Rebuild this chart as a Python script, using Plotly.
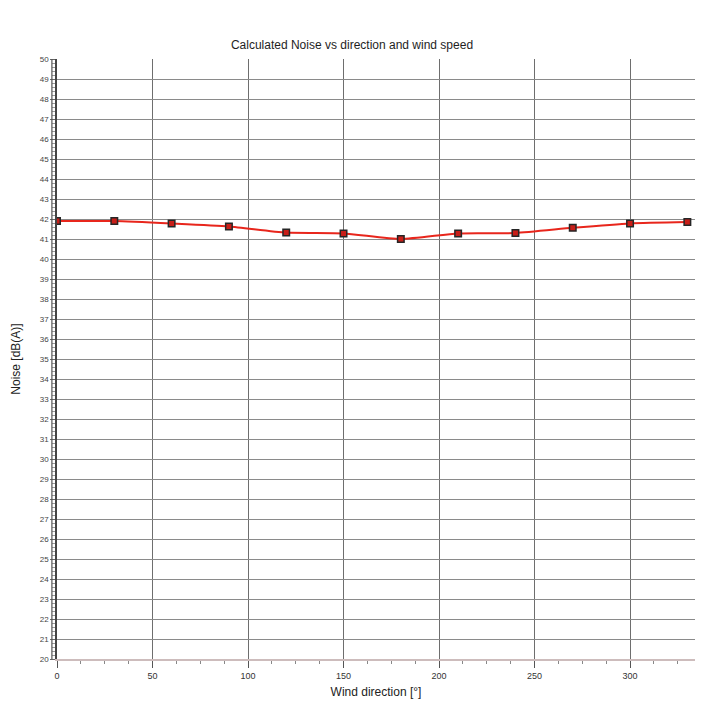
import plotly.graph_objects as go

# Wind direction in degrees and calculated noise level in dB(A)
direction = [0, 30, 60, 90, 120, 150, 180, 210, 240, 270, 300, 330]
noise = [41.9, 41.9, 41.78, 41.63, 41.32, 41.28, 41.0, 41.28, 41.3, 41.56, 41.78, 41.85]

y_ticks = list(range(20, 51))
x_ticks = [0, 50, 100, 150, 200, 250, 300]

FONT = "Liberation Sans, Arial, sans-serif"

fig = go.Figure()
fig.add_trace(go.Scatter(
    x=direction,
    y=noise,
    mode="lines+markers",
    line=dict(color="#e8261c", width=2, shape="spline", smoothing=0.6),
    marker=dict(symbol="square", size=6.5, color="#c81e18",
                line=dict(color="#262626", width=1.5)),
    showlegend=False,
))

# second, inner rule of the left axis
fig.add_shape(type="line", xref="paper", yref="paper",
              x0=-0.008, x1=-0.008, y0=0, y1=1.0,
              line=dict(color="#555555", width=1.2))

fig.update_layout(
    width=702, height=720,
    margin=dict(l=57, r=7, t=59, b=61),
    paper_bgcolor="white",
    plot_bgcolor="white",
    font=dict(family=FONT, color="#222222"),
    title=dict(text="Calculated Noise vs direction and wind speed",
               x=352 / 702, xref="container", xanchor="center",
               y=1 - 45 / 720, yanchor="middle",
               font=dict(size=12, color="#1e1e1e", family=FONT)),
)

fig.update_xaxes(
    range=[0, 334],
    tickmode="array", tickvals=x_ticks, ticktext=[str(v) for v in x_ticks],
    tickfont=dict(size=9, color="#333333"),
    showgrid=True, gridcolor="#6e6e6e", gridwidth=1.2,
    showline=True, linecolor="#cdbcbc", linewidth=1.5,
    ticks="outside", ticklen=7, tickcolor="#555555", tickwidth=1.2,
    minor=dict(dtick=12.5, tick0=0, ticks="outside", ticklen=3,
               tickcolor="#888888", showgrid=False),
    zeroline=False,
    title=dict(text="Wind direction [°]", standoff=8,
               font=dict(size=12, color="#222222", family=FONT)),
)

fig.update_yaxes(
    range=[20, 50],
    tickmode="array", tickvals=y_ticks, ticktext=[str(v) for v in y_ticks],
    tickfont=dict(size=8, color="#444444"),
    showgrid=True, gridcolor="#8a8a8a", gridwidth=1.2,
    showline=True, linecolor="#444444", linewidth=1.5,
    ticks="outside", ticklen=5, tickcolor="#666666", tickwidth=1,
    minor=dict(dtick=0.2, tick0=20, ticks="outside", ticklen=3,
               tickcolor="#999999", showgrid=False),
    zeroline=False,
    title=dict(text="Noise [dB(A)]", standoff=17,
               font=dict(size=12, color="#222222", family=FONT)),
)

fig.write_html("out.html")
